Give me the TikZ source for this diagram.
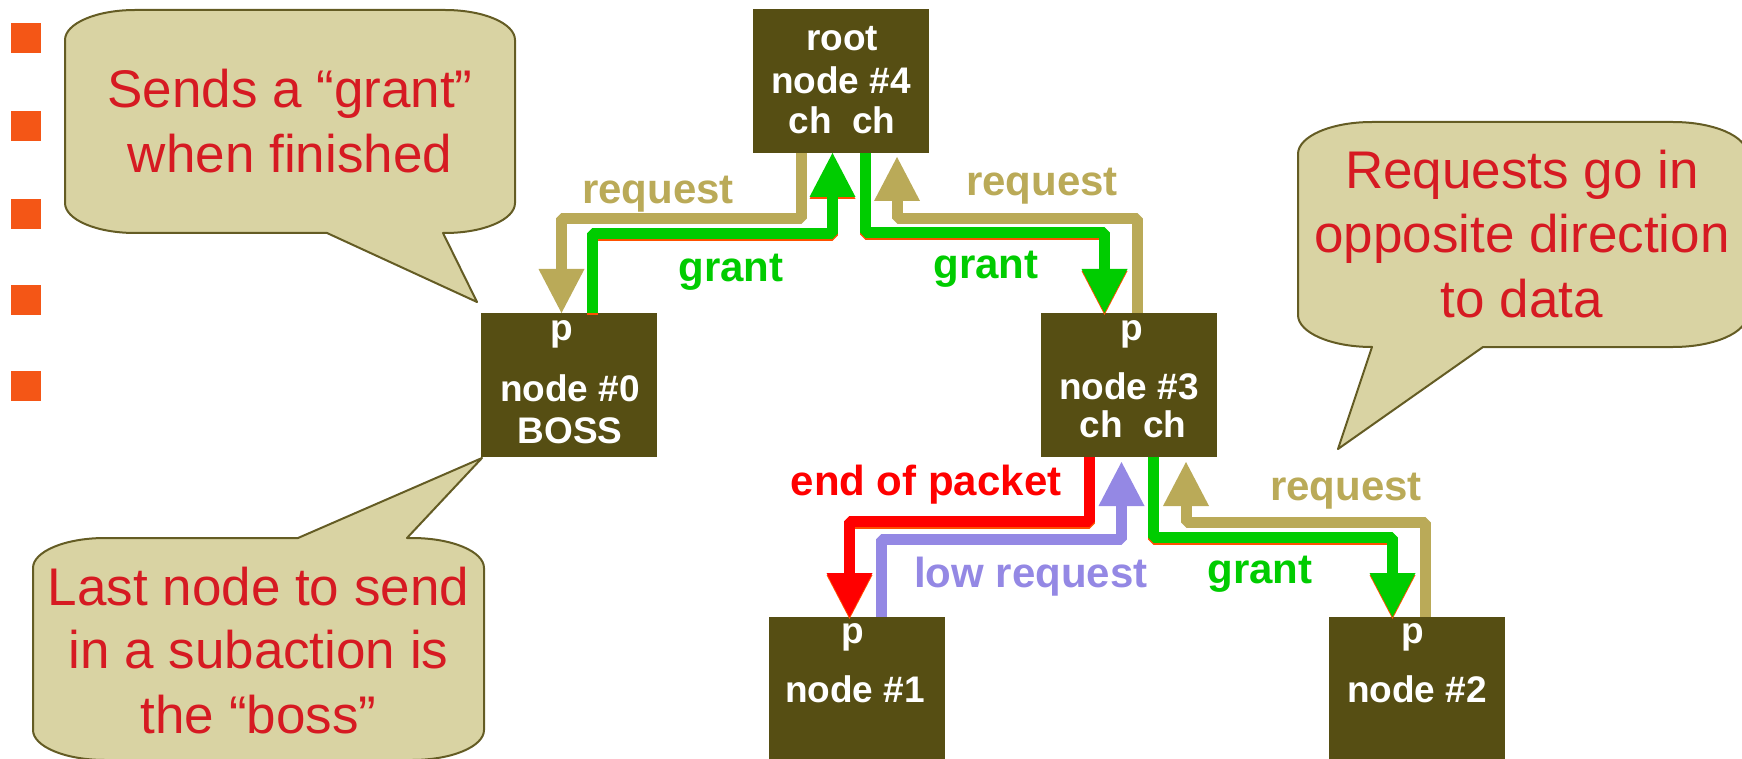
\documentclass[tikz,border=0pt]{standalone}
\usepackage{fontspec}
\setmainfont{Liberation Sans}
\usetikzlibrary{arrows.meta,calc}
\definecolor{boxfill}{RGB}{86,78,19}
\definecolor{calfill}{RGB}{217,211,163}
\definecolor{caldraw}{RGB}{100,92,36}
\definecolor{caltext}{RGB}{214,26,34}
\definecolor{tanc}{RGB}{186,170,88}
\definecolor{grnc}{RGB}{0,204,0}
\definecolor{redc}{RGB}{255,0,0}
\definecolor{bluc}{RGB}{148,136,228}
\definecolor{edgec}{RGB}{255,80,0}
\definecolor{bulc}{RGB}{244,86,22}
\begin{document}
\begin{tikzpicture}[x=1pt,y=-1pt,
  box/.style={draw=none, fill=boxfill, minimum width=176pt, minimum height=144pt, inner sep=0pt, outer sep=0pt},
  btxt/.style={text=white, font=\fontsize{37}{42}\selectfont\bfseries, anchor=base, inner sep=0pt},
  ctxt/.style={text=caltext, font=\fontsize{53}{64}\selectfont, anchor=base, inner sep=0pt},
  lbl/.style={font=\fontsize{42}{50}\selectfont\bfseries, anchor=base, inner sep=0pt},
  conn/.style={line width=11pt, line join=bevel, -{Triangle[width=46pt,length=44pt,line width=0pt]}},
  edgeshadow/.style={draw=edgec, transform canvas={shift={(0pt,-2pt)}}},
  callout/.style={fill=calfill, draw=caldraw, line width=2pt, line join=round},
  bullet/.style={fill=bulc},
]
\useasboundingbox (0,0) rectangle (1742,759);

% bullets
\foreach \yy in {23,111,199,285,371} \fill[bullet] (11,\yy) rectangle (41,\yy+30);

% callouts
\draw[callout] (135,10) -- (445,10) .. controls (483.6,10) and (515,23.4) .. (515,40) -- (515,203)
  .. controls (515,219.6) and (483.6,233) .. (445,233) -- (443,233) -- (477,302) -- (327,233) -- (135,233)
  .. controls (96.4,233) and (65,219.6) .. (65,203) -- (65,40) .. controls (65,23.4) and (96.4,10) .. (135,10) -- cycle;
\node[ctxt] (c1a) at (290,108) {Sends a “grant”};
\node[ctxt] (c1b) at (290,173) {when finished};

\draw[callout] (105,538) -- (298,538) -- (482,458) -- (407,538) -- (412,538)
  .. controls (451.7,538) and (484,551.4) .. (484,568) -- (484,730)
  .. controls (484,746.6) and (451.7,760) .. (412,760) -- (105,760)
  .. controls (65.3,760) and (33,746.6) .. (33,730) -- (33,568)
  .. controls (33,551.4) and (65.3,538) .. (105,538) -- cycle;
\node[ctxt] (c2a) at (258.5,605) {Last node to send};
\node[ctxt] (c2b) at (258.5,668) {in a subaction is};
\node[ctxt] (c2c) at (258.5,733) {the “boss”};

\draw[callout] (1372,122) -- (1673,122) .. controls (1713.8,122) and (1747,136.3) .. (1747,154) -- (1747,315)
  .. controls (1747,332.7) and (1713.8,347) .. (1673,347) -- (1483,347) -- (1338,449) -- (1372,347)
  .. controls (1331.2,347) and (1298,332.7) .. (1298,315) -- (1298,154)
  .. controls (1298,136.3) and (1331.2,122) .. (1372,122) -- cycle;
\node[ctxt] (c3a) at (1522,189) {Requests go in};
\node[ctxt] (c3b) at (1522,253) {opposite direction};
\node[ctxt] (c3c) at (1522,317) {to data};

% boxes
\node[box] (root) at (841,81) {};
\node[box] (n0) at (569,385) {};
\node[box] (n3) at (1129,385) {};
\node[box] (n1) at (857,689) {};
\node[box] (n2) at (1417,689) {};

\node[btxt] (rootA) at (842,51) {root};
\node[btxt] (rootB) at (841,94) {node \#4};
\node[btxt] (rootC) at (842,134) {ch\ \ ch};
\node[btxt] (n0p) at (562,340) {p};
\node[btxt] (n0A) at (570,401) {node \#0};
\node[btxt] (n0B) at (570,443) {BOSS};
\node[btxt] (n3p) at (1132,340) {p};
\node[btxt] (n3A) at (1129,399) {node \#3};
\node[btxt] (n3B) at (1133,437) {ch\ \ ch};
\node[btxt] (n1p) at (853,643) {p};
\node[btxt] (n1A) at (855,702) {node \#1};
\node[btxt] (n2p) at (1413,643) {p};
\node[btxt] (n2A) at (1417,702) {node \#2};

% connectors
% root -> n0 request
\draw[conn, tanc] ($(root.south)+(-39.5,0)$) |- ($(n0.north)+(-7.5,-94.5)$) -- ($(n0.north)+(-7.5,0)$);
% n0 -> root grant
\draw[conn, edgeshadow] ($(n0.north)+(23.5,0)$) |- ($(root.south)+(-8.5,81)$) -- ($(root.south)+(-8.5,0)$);
\draw[conn, grnc] ($(n0.north)+(23.5,0)$) |- ($(root.south)+(-8.5,81)$) -- ($(root.south)+(-8.5,0)$);
% root -> n3 grant
\draw[conn, edgeshadow] ($(root.south)+(24.5,0)$) |- ($(n3.north)+(-24.5,-80)$) -- ($(n3.north)+(-24.5,0)$);
\draw[conn, grnc] ($(root.south)+(24.5,0)$) |- ($(n3.north)+(-24.5,-80)$) -- ($(n3.north)+(-24.5,0)$);
% n3 -> root request
\draw[conn, tanc] ($(n3.north)+(8.5,0)$) |- ($(root.south)+(56,65.5)$) -- ($(root.south)+(56,4)$);
% n3 -> n1 end of packet
\draw[conn, edgeshadow] ($(n3.south)+(-40,0)$) |- ($(n1.north)+(-7.5,-96)$) -- ($(n1.north)+(-7.5,0)$);
\draw[conn, redc] ($(n3.south)+(-40,0)$) |- ($(n1.north)+(-7.5,-96)$) -- ($(n1.north)+(-7.5,0)$);
% n1 -> n3 low request
\draw[conn, bluc] ($(n1.north)+(24,0)$) |- ($(n3.south)+(-7.5,82)$) -- ($(n3.south)+(-7.5,5)$);
% n3 -> n2 grant
\draw[conn, edgeshadow] ($(n3.south)+(24.5,0)$) |- ($(n2.north)+(-24.5,-80)$) -- ($(n2.north)+(-24.5,0)$);
\draw[conn, grnc] ($(n3.south)+(24.5,0)$) |- ($(n2.north)+(-24.5,-80)$) -- ($(n2.north)+(-24.5,0)$);
% n2 -> n3 request
\draw[conn, tanc] ($(n2.north)+(8.5,0)$) |- ($(n3.south)+(57,65.5)$) -- ($(n3.south)+(57,5)$);

% labels
\node[lbl, text=tanc] (lreqL) at (658,204) {request};
\node[lbl, text=grnc] (lgrL) at (731,281) {grant};
\node[lbl, text=tanc] (lreqR) at (1042,196) {request};
\node[lbl, text=grnc] (lgrR) at (986,279) {grant};
\node[lbl, text=redc] (leop) at (926,495) {end of packet};
\node[lbl, text=bluc] (llow) at (1031,587) {low request};
\node[lbl, text=tanc] (lreqB) at (1346,500) {request};
\node[lbl, text=grnc] (lgrB) at (1260,583) {grant};
\end{tikzpicture}
\end{document}
